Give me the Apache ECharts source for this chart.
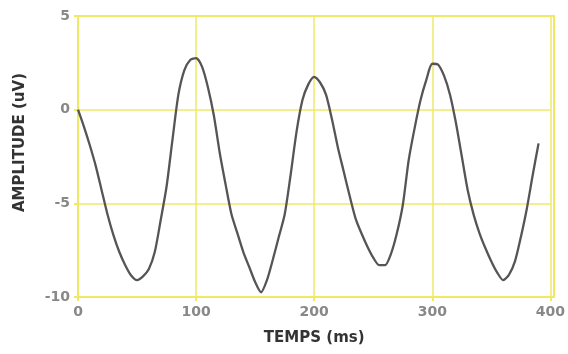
<!DOCTYPE html>
<html>
<head>
<meta charset="utf-8">
<script src="https://cdn.jsdelivr.net/npm/echarts@6/dist/echarts.min.js"></script>
<style>
html,body{margin:0;padding:0;background:#fff;}
#c{width:568px;height:354px;}
</style>
</head>
<body>
<div id="c"></div>
<script>
const times = [0,5,10,15,20,25,30,35,40,45,50,55,60,65,70,75,80,85,90,95,100,105,110,115,120,125,130,135,140,145,150,155,160,165,170,175,180,185,190,195,200,205,210,215,220,225,230,235,240,245,250,255,260,265,270,275,280,285,290,295,300,305,310,315,320,325,330,335,340,345,350,355,360,365,370,375,380,385,390];
const amplitude = [0,-0.9,-1.9,-3.0,-4.3,-5.6,-6.7,-7.6,-8.3,-8.85,-9.1,-8.9,-8.5,-7.6,-5.9,-4.1,-1.6,0.8,2.1,2.65,2.75,2.3,1.2,-0.3,-2.3,-4.0,-5.6,-6.6,-7.6,-8.4,-9.2,-9.75,-9.1,-8.0,-6.8,-5.6,-3.5,-1.2,0.5,1.35,1.75,1.45,0.8,-0.5,-2.0,-3.3,-4.6,-5.8,-6.6,-7.3,-7.9,-8.3,-8.3,-7.7,-6.6,-5.1,-2.7,-1.0,0.5,1.6,2.45,2.4,1.8,0.8,-0.7,-2.5,-4.3,-5.6,-6.6,-7.4,-8.1,-8.7,-9.1,-8.8,-8.1,-6.8,-5.3,-3.5,-1.8];
const xTicks = [0,100,200,300,400];
const yTicks = [-10,-5,0,5];
const xTitle = 'TEMPS (ms)';
const yTitle = 'AMPLITUDE (uV)';

const gridColor = '#eeea66';
const chart = echarts.init(document.getElementById('c'));
chart.setOption({
  animation:false,
  backgroundColor:'#ffffff',
  grid:{left:78,right:14,top:16,bottom:57,show:false},
  xAxis:{
    type:'value',min:xTicks[0],max:xTicks[xTicks.length-1],interval:100,
    name:xTitle,nameLocation:'middle',nameGap:34,
    nameTextStyle:{fontFamily:'DejaVu Sans',fontWeight:'bold',fontSize:15,color:'#333'},
    axisLine:{show:true,onZero:false,lineStyle:{color:gridColor,width:2}},
    axisTick:{show:true,length:4,lineStyle:{color:gridColor,width:2}},
    splitLine:{show:true,lineStyle:{color:gridColor,width:1.5}},
    axisLabel:{fontFamily:'DejaVu Sans',fontWeight:'bold',fontSize:14,color:'#888',margin:8}
  },
  yAxis:{
    type:'value',min:yTicks[0],max:yTicks[yTicks.length-1],interval:5,
    name:yTitle,nameLocation:'middle',nameGap:50,nameRotate:90,
    nameTextStyle:{fontFamily:'DejaVu Sans',fontWeight:'bold',fontSize:15,color:'#333',padding:[0,0,0,28]},
    axisLine:{show:true,onZero:false,lineStyle:{color:gridColor,width:2}},
    axisTick:{show:true,length:4,lineStyle:{color:gridColor,width:2}},
    splitLine:{show:true,lineStyle:{color:gridColor,width:1.5}},
    axisLabel:{fontFamily:'DejaVu Sans',fontWeight:'bold',fontSize:14,color:'#888',margin:8}
  },
  series:[{
    type:'line',
    data:times.map((t,i)=>[t,amplitude[i]]),
    smooth:0.25,
    showSymbol:false,
    lineStyle:{color:'#555',width:2.3},
    z:5
  }],
  graphic:[{
    type:'rect',
    shape:{x:78,y:16,width:476,height:281},
    style:{fill:'none',stroke:gridColor,lineWidth:2},
    silent:true,z:1
  }]
});
</script>
</body>
</html>
